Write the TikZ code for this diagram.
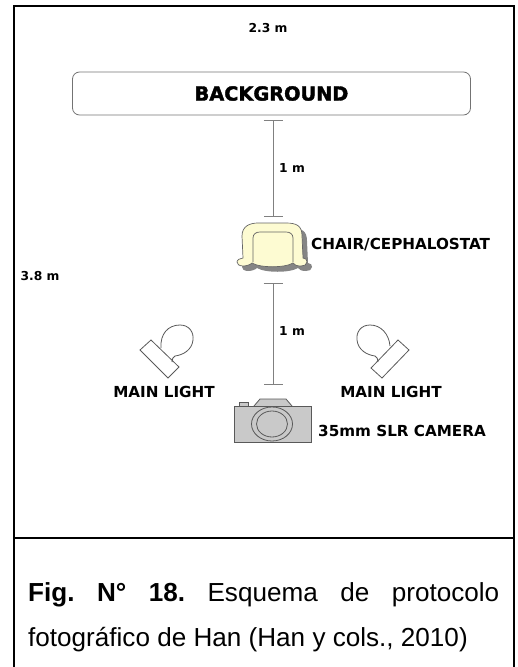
\documentclass[tikz,border=0pt]{standalone}
\usepackage{fontspec}
\setmainfont{Liberation Sans}
\newfontfamily\labelfont{DejaVu Sans}
\newfontfamily\heavyfont[BoldFeatures={FakeBold=2}]{DejaVu Sans}
\usetikzlibrary{arrows.meta}
\definecolor{dimgray}{gray}{0.5}
\definecolor{chairfill}{HTML}{FDFBD2}
\definecolor{chairshadow}{gray}{0.52}
\definecolor{camerafill}{gray}{0.79}
\tikzset{
  framerule/.style={line width=2pt,black},
  dimline/.style={draw=dimgray,line width=0.9pt,{Bar[width=19pt,line width=0.9pt]}-{Bar[width=19pt,line width=0.9pt]}},
  dimlabel/.style={font=\labelfont\bfseries\fontsize{12.3}{14}\selectfont,inner sep=0pt},
  itemlabel/.style={font=\labelfont\bfseries\fontsize{15.2}{17}\selectfont,inner sep=0pt},
  devline/.style={draw=black!65,line width=0.8pt},
}
\newcommand{\chairoutline}{(243,258) -- (242,236) .. controls (242,226) and (250,223) .. (258,223)
  -- (286,223) .. controls (297,223) and (302,226) .. (302,236) -- (303,258)
  .. controls (306,258) and (307,260) .. (307,262) .. controls (307,265) and (304,266) .. (301,266)
  .. controls (297,266) and (294,265) .. (293,263) .. controls (285,268) and (260,268) .. (252,263)
  .. controls (250,265) and (246,266) .. (243,266) .. controls (239,266) and (237,264) .. (237,262)
  .. controls (237,260) and (240,258) .. (243,258) -- cycle}
\begin{document}
\begin{tikzpicture}[x=1pt,y=-1pt]
\useasboundingbox (0,0) rectangle (517,667);
% outer table
\draw[framerule] (14,667) -- (14,6) -- (514,6) -- (514,667);
\draw[framerule] (14,538) -- (514,538);

\node[dimlabel] (width) at (268,28) {2.3 m};
\node[dimlabel] (depth) at (40,276) {3.8 m};

\node[draw=black!55,line width=0.8pt,rounded corners=7pt,minimum width=398pt,minimum height=43pt,
  font=\heavyfont\bfseries\fontsize{19.3}{21}\selectfont] (background) at (271.5,93.5) {BACKGROUND};

% chair
\fill[chairshadow,shift={(5,5)}] \chairoutline;
\draw[fill=chairfill,draw=black!60,line width=0.7pt] \chairoutline;
\draw[draw=black!60,line width=0.7pt] (253,262) -- (253,238) .. controls (253,234) and (256,232) .. (260,232)
  -- (286,232) .. controls (290,232) and (293,234) .. (293,238) -- (293,262);
\node[itemlabel,anchor=west] (chair) at (311,245) {CHAIR/CEPHALOSTAT};

% distances
\coordinate (bgend) at (273,120);
\coordinate (chairtop) at (273,217);
\coordinate (chairend) at (273,283);
\coordinate (cameratop) at (273,385);
\draw[dimline] (bgend) -- (chairtop);
\draw[dimline] (chairend) -- (cameratop);
\node[dimlabel] (upper) at (292,168) {1 m};
\node[dimlabel] (lower) at (292,331) {1 m};

% lights
\draw[devline] (151,340) -- (140,350) -- (168,378) -- (179,367) -- cycle;
\draw[devline] (161,348) .. controls (160,334) and (168,325) .. (180,325)
  .. controls (189,325) and (194,332) .. (193,340) .. controls (192,350) and (183,355) .. (175,356)
  .. controls (173,357) and (172,359) .. (172,362);
\draw[devline] (398,340) -- (409,350) -- (382,378) -- (371,368) -- cycle;
\draw[devline] (390,346) .. controls (389,334) and (381,325) .. (370,325)
  .. controls (361,325) and (356,332) .. (357,340) .. controls (358,350) and (367,355) .. (375,356)
  .. controls (377,357) and (378,359) .. (378,362);
\node[itemlabel] (leftlight) at (164,392) {MAIN LIGHT};
\node[itemlabel] (rightlight) at (391,392) {MAIN LIGHT};

% camera
\draw[devline,fill=camerafill] (239,406) -- (239,402) -- (248,402) -- (248,406);
\draw[devline,fill=camerafill] (254,406) -- (260,399) -- (286,399) -- (292,406);
\draw[devline,fill=camerafill] (234,406) rectangle (311,442);
\draw[devline] (272,424) ellipse (20.5pt and 17pt);
\draw[devline] (272,424) ellipse (15.5pt and 13pt);
\node[itemlabel,anchor=west] (camera) at (318,431) {35mm SLR CAMERA};

% caption
\node[anchor=north west,inner sep=0pt,text width=471pt,align=justify,
  font=\fontsize{26.1}{45}\selectfont\frenchspacing] (caption) at (28,582)
  {\textbf{Fig. N° 18.} Esquema de protocolo\linebreak fotográfico de Han (Han y cols., 2010)};
\end{tikzpicture}
\end{document}
